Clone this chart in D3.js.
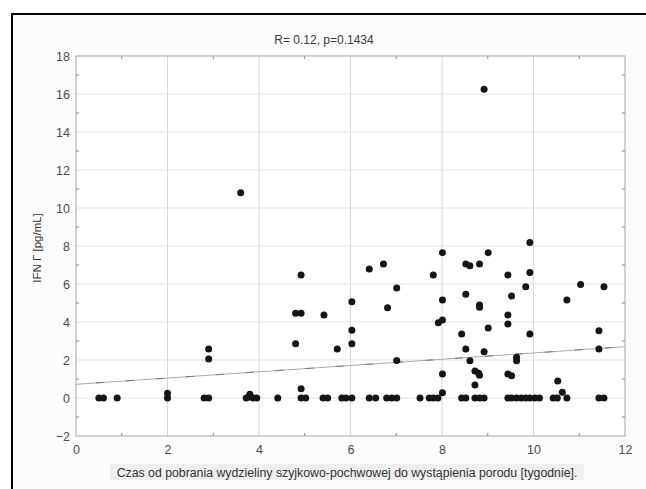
<!DOCTYPE html>
<html><head><meta charset="utf-8">
<script src="https://cdn.jsdelivr.net/npm/d3@7"></script>
<style>body{margin:0;background:#fff}svg{display:block}text{font-family:"Liberation Sans",Arial,sans-serif;fill:#333}</style>
</head><body><svg id="c" width="646" height="489"></svg>
<script>
const titleText = "R= 0.12, p=0.1434";
const xLabel = "Czas od pobrania wydzieliny szyjkowo-pochwowej do wystąpienia porodu [tygodnie].";
const yLabel = "IFN Γ [pg/mL]";
const xTicks = [0,2,4,6,8,10,12];
const yTicks = [-2,0,2,4,6,8,10,12,14,16,18];
const xVals = [0.5,0.6,0.9, 2.0,2.0, 2.8,2.9,2.9,2.9, 3.6, 3.72,3.78,3.8,3.87,3.95, 4.41,
  4.8,4.8,4.92,4.92,4.92,4.92,5.02, 5.42,5.4,5.5, 5.71,5.81,5.9,6.03, 6.03,6.03,6.03,
  6.41,6.41,6.55, 6.72,6.81,6.79,6.9,7.01,7.01,7.01, 7.52,7.72,7.81,7.91,7.81,7.92,8.01,
  8.01,8.01,8.01,8.01, 8.43,8.52,8.43,8.52,8.52,8.52,8.61,8.61,
  8.72,8.72,8.8,8.82,8.82,8.82,8.82,8.92,8.92, 9.01,9.01,8.72,8.82,8.92,
  9.44,9.44,9.44,9.44,9.52,9.52,9.63,9.63,9.83,9.92,9.92,9.92,
  9.44,9.52,9.63,9.73,9.83,9.92,10.03,10.13,
  10.43,10.52,10.73,10.53,10.63,10.73,11.03,11.43,11.43,11.43,11.54,11.54];
const yVals = [0,0,0, 0.25,0, 0,0,2.05,2.58, 10.8, 0,0.05,0.2,0,0, 0,
  4.46,2.86,4.46,6.47,0.49,0,0, 4.37,0,0, 2.58,0,0,0, 5.07,3.56,2.86,
  6.79,0,0, 7.05,4.75,0,0,0,5.79,1.98, 0,0,0,0,6.47,3.96,4.1,
  7.65,5.16,1.26,0.28, 0,0,3.37,7.05,5.46,2.58,6.96,1.96,
  1.42,0.68,1.3,1.2,7.05,4.89,4.77,2.44,16.25, 7.65,3.68,0,0,0,
  6.47,4.37,3.89,1.26,5.37,1.17,2.14,1.96,5.86,8.18,6.6,3.37,
  0,0,0,0,0,0,0,0,
  0,0,0,0.89,0.3,5.16,5.98,3.54,2.58,0,5.86,0];
const fitX = [0,12];
const fitY = [0.72,2.7];

const svg = d3.select("#c");
const x = d3.scaleLinear().domain([0,12]).range([76,625]);
const y = d3.scaleLinear().domain([-2,18]).range([436,56]);

svg.append("rect").attr("x",12).attr("y",14).attr("width",634).attr("height",475).attr("fill","#fcfcfc");
svg.append("line").attr("x1",12).attr("x2",646).attr("y1",14).attr("y2",14).attr("stroke","#000").attr("stroke-width",2);
svg.append("line").attr("x1",12).attr("x2",12).attr("y1",13).attr("y2",489).attr("stroke","#000").attr("stroke-width",2);

svg.append("rect").attr("x",76).attr("y",56).attr("width",549).attr("height",380).attr("fill","#fff");

svg.append("g").selectAll("line").data(xTicks.slice(1,-1)).join("line")
  .attr("x1",d=>x(d)).attr("x2",d=>x(d)).attr("y1",56).attr("y2",436).attr("stroke","#d8d8d8");
svg.append("g").selectAll("line").data(yTicks.slice(1,-1)).join("line")
  .attr("y1",d=>y(d)).attr("y2",d=>y(d)).attr("x1",76).attr("x2",625).attr("stroke","#e2e2e2");

const ax = svg.append("g").attr("transform","translate(0,436)").call(d3.axisBottom(x).tickValues(xTicks).tickSize(0).tickPadding(9));
const ay = svg.append("g").attr("transform","translate(76,0)").call(d3.axisLeft(y).tickValues(yTicks).tickSize(0).tickPadding(6));
[ax,ay].forEach(g=>{g.select(".domain").remove();g.selectAll("text").attr("font-size",12.5).style("fill","#4a4a4a").attr("font-family","Liberation Sans, Arial");});
const minX = d3.range(1,12,2), minY = d3.range(-1,18,2);
const mt = svg.append("g").attr("stroke","#888");
mt.selectAll(".b").data(minX).join("line").attr("x1",d=>x(d)).attr("x2",d=>x(d)).attr("y1",436).attr("y2",433);
mt.selectAll(".t").data(minX).join("line").attr("x1",d=>x(d)).attr("x2",d=>x(d)).attr("y1",56).attr("y2",59);
mt.selectAll(".l").data(minY).join("line").attr("y1",d=>y(d)).attr("y2",d=>y(d)).attr("x1",76).attr("x2",79);
mt.selectAll(".r").data(minY).join("line").attr("y1",d=>y(d)).attr("y2",d=>y(d)).attr("x1",625).attr("x2",622);
svg.append("rect").attr("x",76).attr("y",56).attr("width",549).attr("height",380).attr("fill","none").attr("stroke","#a5a5a5");

svg.append("line").attr("x1",x(fitX[0])).attr("y1",y(fitY[0])).attr("x2",x(fitX[1])).attr("y2",y(fitY[1]))
  .attr("stroke","#aaa").attr("stroke-width",1);
svg.append("line").attr("x1",x(fitX[0])).attr("y1",y(fitY[0])).attr("x2",x(fitX[1])).attr("y2",y(fitY[1]))
  .attr("stroke","#777").attr("stroke-width",1).attr("stroke-dasharray","8,22").attr("stroke-dashoffset",-20);

svg.append("g").selectAll("circle").data(xVals.map((v,i)=>[v,yVals[i]])).join("circle")
  .attr("cx",d=>x(d[0])).attr("cy",d=>y(d[1])).attr("r",3.5).attr("fill","#151515");

svg.append("text").attr("x",324).attr("y",44).attr("text-anchor","middle").attr("font-size",12).style("fill","#3a3a3a").text(titleText);
svg.append("text").attr("transform","translate(41,248) rotate(-90)").attr("text-anchor","middle").attr("font-size",11.5).text(yLabel);
svg.append("rect").attr("x",110).attr("y",464).attr("width",474).attr("height",16).attr("fill","#efefef");
svg.append("text").attr("x",347).attr("y",477).attr("text-anchor","middle").attr("font-size",12.3).text(xLabel);
</script></body></html>
